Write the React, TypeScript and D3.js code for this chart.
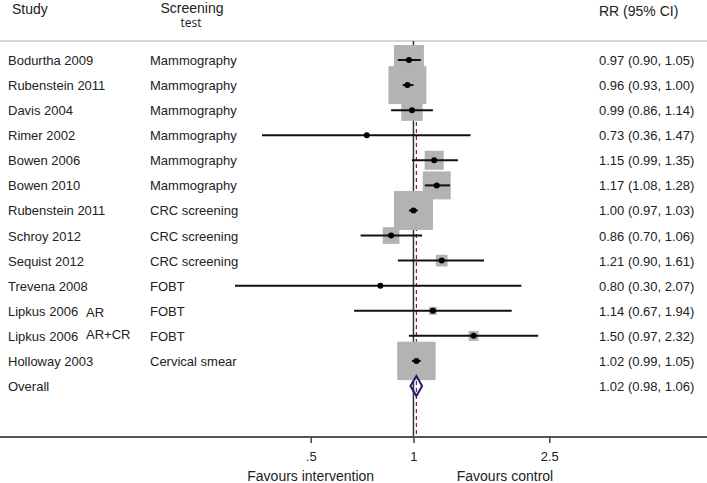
import React, { useEffect, useRef } from 'react';
import * as d3 from 'd3';

// study rows, top to bottom
const studies = ['Bodurtha 2009', 'Rubenstein 2011', 'Davis 2004', 'Rimer 2002', 'Bowen 2006', 'Bowen 2010',
  'Rubenstein 2011', 'Schroy 2012', 'Sequist 2012', 'Trevena 2008', 'Lipkus 2006', 'Lipkus 2006', 'Holloway 2003'];
const notes = ['', '', '', '', '', '', '', '', '', '', 'AR', 'AR+CR', ''];
const tests = ['Mammography', 'Mammography', 'Mammography', 'Mammography', 'Mammography', 'Mammography',
  'CRC screening', 'CRC screening', 'CRC screening', 'FOBT', 'FOBT', 'FOBT', 'Cervical smear'];
const rr = [0.97, 0.96, 0.99, 0.73, 1.15, 1.17, 1.00, 0.86, 1.21, 0.80, 1.14, 1.50, 1.02];
const lo = [0.90, 0.93, 0.86, 0.36, 0.99, 1.08, 0.97, 0.70, 0.90, 0.30, 0.67, 0.97, 0.99];
const hi = [1.05, 1.00, 1.14, 1.47, 1.35, 1.28, 1.03, 1.06, 1.61, 2.07, 1.94, 2.32, 1.05];
// approximate % weights
const weights = [11.9, 19.1, 6.1, 0.1, 4.8, 10.4, 20.2, 3.7, 1.8, 0.1, 0.85, 1.3, 19.6];

const overall = { rr: 1.02, lo: 0.98, hi: 1.06 };

const tickValues = [0.5, 1, 2.5];
const tickLabels = ['.5', '1', '2.5'];

const font = 'Liberation Sans, Arial, Helvetica, sans-serif';

const App = () => {
  const axisRef = useRef<SVGGElement>(null);

  const W = 707;
  const H = 483;
  const x = d3.scaleLog().domain([0.5, 2.5]).range([310.7, 549.3]);
  const y = d3.scalePoint<number>()
    .domain(d3.range(studies.length + 1))
    .range([60, 386]);
  const box = d3.scaleSqrt().domain([0, d3.max(weights) as number]).range([0, 39]);
  const axisY = 437;
  const fmt = d3.format('.2f');

  useEffect(() => {
    const g = d3.select(axisRef.current);
    g.selectAll('*').remove();
    g.call(
      d3.axisBottom(x)
        .tickValues(tickValues)
        .tickFormat((d, i) => tickLabels[i])
        .tickSize(6)
        .tickPadding(9)
    );
    g.select('.domain').remove();
    g.selectAll('.tick line').attr('stroke', '#444').attr('stroke-width', 1.5);
    g.selectAll('.tick text')
      .attr('font-family', font)
      .attr('font-size', 13)
      .attr('fill', '#222');
  }, []);

  const oy = y(studies.length) as number;
  const diamond = [
    [x(overall.lo), oy],
    [x(overall.rr), oy - 10],
    [x(overall.hi), oy],
    [x(overall.rr), oy + 10],
  ];

  return (
    <div style={{ position: 'fixed', left: 0, top: 0 }}>
      <svg width={W} height={H} style={{ display: 'block', background: '#fff' }}>
        {/* headers */}
        <text x={12} y={14} fontFamily={font} fontSize={14} fill="#222">Study</text>
        <text x={192} y={12.5} fontFamily={font} fontSize={14} fill="#222" textAnchor="middle">Screening</text>
        <text x={191} y={27} fontFamily="Open Sans, Noto Sans, sans-serif" fontSize={12} fill="#222" textAnchor="middle">test</text>
        <text x={599} y={16} fontFamily={font} fontSize={14} fill="#222">RR (95% CI)</text>
        <line x1={0} x2={W} y1={41} y2={41} stroke="#c8c8c8" strokeWidth={1.5} />

        {/* reference lines */}
        <line x1={x(1)} x2={x(1)} y1={41} y2={axisY} stroke="#333" strokeWidth={1.5} />
        <line x1={x(overall.rr)} x2={x(overall.rr)} y1={45} y2={axisY}
          stroke="#8b1c2c" strokeWidth={1.2} strokeDasharray="4,3" />

        {/* weight boxes */}
        {studies.map((s, i) => {
          const sz = box(weights[i]);
          return (
            <rect key={'b' + i} x={x(rr[i]) - sz / 2} y={(y(i) as number) - sz / 2}
              width={sz} height={sz} fill="#b3b3b3" />
          );
        })}

        {/* CIs and points */}
        {studies.map((s, i) => (
          <g key={'c' + i}>
            <line x1={x(lo[i])} x2={x(hi[i])} y1={y(i)} y2={y(i)} stroke="#111" strokeWidth={2} />
            <circle cx={x(rr[i])} cy={y(i)} r={3} fill="#000" />
          </g>
        ))}

        {/* overall diamond */}
        <polygon points={diamond.map(p => p.join(',')).join(' ')}
          fill="none" stroke="#1f1a6e" strokeWidth={2} />

        {/* row labels */}
        {studies.map((s, i) => (
          <g key={'t' + i} fontFamily={font} fontSize={13} fill="#222">
            <text x={8} y={(y(i) as number) + 5}>{s}</text>
            {notes[i] && (
              <text x={86} y={(y(i) as number) + 5 + (notes[i] === 'AR' ? 1.5 : -1.5)}>{notes[i]}</text>
            )}
            <text x={150} y={(y(i) as number) + 5}>{tests[i]}</text>
            <text x={599} y={(y(i) as number) + 5}>
              {`${fmt(rr[i])} (${fmt(lo[i])}, ${fmt(hi[i])})`}
            </text>
          </g>
        ))}
        <g fontFamily={font} fontSize={13} fill="#222">
          <text x={8} y={oy + 5}>Overall</text>
          <text x={599} y={oy + 5}>{`${fmt(overall.rr)} (${fmt(overall.lo)}, ${fmt(overall.hi)})`}</text>
        </g>

        {/* x axis */}
        <line x1={0} x2={W} y1={axisY} y2={axisY} stroke="#555" strokeWidth={2} />
        <g ref={axisRef} transform={`translate(0,${axisY})`} />
        <text x={x(0.5)} y={481} fontFamily={font} fontSize={14} fill="#222" textAnchor="middle">Favours intervention</text>
        <text x={505} y={481} fontFamily={font} fontSize={14} fill="#222" textAnchor="middle">Favours control</text>
      </svg>
    </div>
  );
};

export default App;
